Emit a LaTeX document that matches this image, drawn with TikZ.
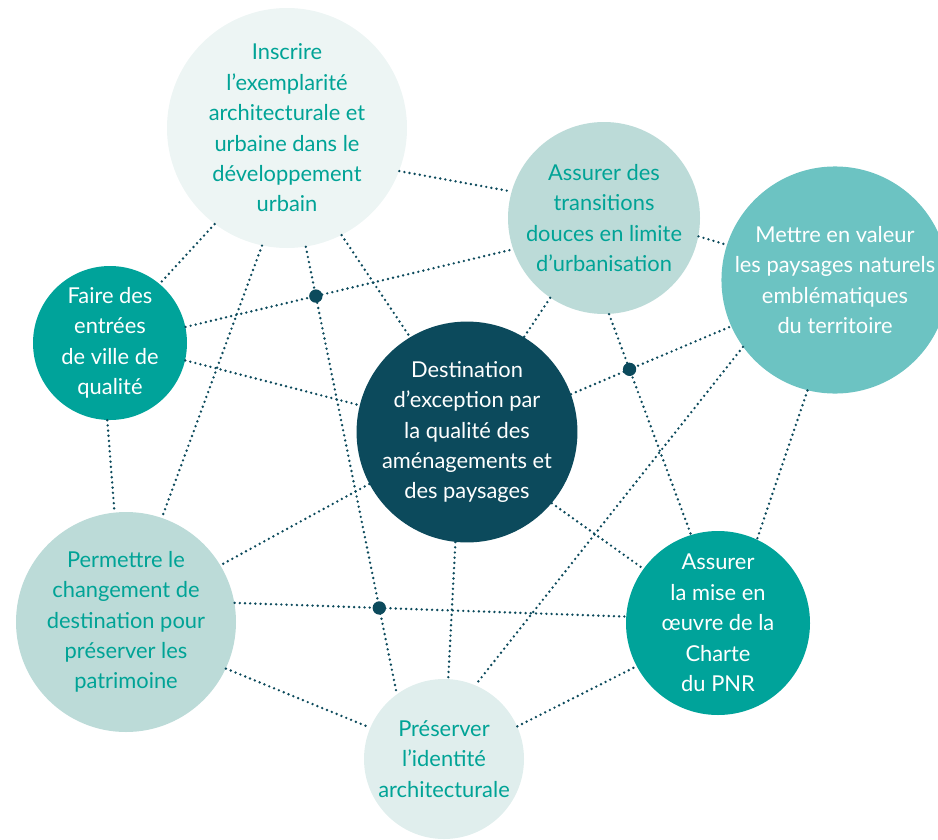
\documentclass[tikz,border=0pt]{standalone}
\usepackage{fontspec}
\setmainfont{Lato}
\usetikzlibrary{intersections}

\definecolor{petrol}{HTML}{0C4A5C}
\definecolor{lagoon}{HTML}{00A39A}
\definecolor{seafoam}{HTML}{6CC3C2}
\definecolor{mist}{HTML}{BCDBD8}
\definecolor{pale}{HTML}{EDF5F4}
\definecolor{frost}{HTML}{E0EEED}
\definecolor{tealtext}{HTML}{00A396}

\begin{document}
\begin{tikzpicture}[x=0.75pt, y=-0.75pt,
    goal/.style={circle, inner sep=0pt, align=center,
      font=\fontsize{16.4}{22.8}\selectfont},
    link/.style={petrol, line width=2pt, line cap=round,
      dash pattern=on 0pt off 3.9pt},
    junction/.style={circle, fill=petrol, inner sep=0pt, minimum size=10pt}]
    \useasboundingbox (0,0) rectangle (938,839);

        % Nodes
        \node (ins) [goal, minimum size=180pt, fill=pale, text=tealtext] at (287,128)
            {Inscrire\\l’exemplarité\\architecturale et\\urbaine dans le\\développement\\urbain};
        \node (tra) [goal, minimum size=144pt, fill=mist, text=tealtext] at (604,218)
            {Assurer des\\transitions\\douces en limite\\d’urbanisation};
        \node (met) [goal, minimum size=160.5pt, fill=seafoam, text=white] at (835,280)
            {Mettre en valeur\\les paysages naturels\\emblématiques\\du territoire};
        \node (fai) [goal, minimum size=115.5pt, fill=lagoon, text=white] at (110,343)
            {Faire des\\entrées\\de ville de\\qualité};
        \node (des) [goal, minimum size=162pt, fill=petrol, text=white] at (467,432)
            {Destination\\d’exception par\\la qualité des\\aménagements et\\des paysages};
        \node (per) [goal, minimum size=165pt, fill=mist, text=tealtext] at (126,622)
            {Permettre le\\changement de\\destination pour\\préserver les\\patrimoine};
        \node (cha) [goal, minimum size=138pt, fill=lagoon, text=white] at (718,623)
            {Assurer\\la mise en\\œuvre de la\\Charte\\du PNR};
        \node (pre) [goal, minimum size=120pt, fill=frost, text=tealtext] at (444,759)
            {Préserver\\l’identité\\architecturale};

        % Edges
        \draw[link] (ins.-21.7) -- (tra.164.8);
        \draw[link] (ins.-127.7) -- (fai.50.7);
        \draw[link] (ins.-102.7) -- (per.71.1);
        \draw[link, name path=insPre] (ins.-81.4) -- (pre.126.6);
        \draw[link] (ins.-63.6) -- (des.121.3);
        \draw[link, name path=faiTra] (fai.12.5) -- (tra.-161.6);
        \draw[link] (tra.-124.3) -- (des.59.1);
        \draw[link] (tra.-11.2) -- (met.162.1);
        \draw[link, name path=traCha] (tra.-87.6) -- (cha.107.1);
        \draw[link, name path=desMet] (des.20.7) -- (met.-156.2);
        \draw[link] (met.-144.1) -- (pre.67.5);
        \draw[link] (met.-104.6) -- (cha.65.1);
        \draw[link] (fai.-13.2) -- (des.166.1);
        \draw[link] (fai.-92) -- (per.96.8);
        \draw[link] (des.-152.7) -- (per.31.2);
        \draw[link] (des.-40.1) -- (cha.144.3);
        \draw[link] (des.-96.9) -- (pre.87.9);
        \draw[link, name path=perCha] (per.10.4) -- (cha.176.3);
        \draw[link] (per.-25) -- (pre.157.9);
        \draw[link] (pre.24.7) -- (cha.-152.9);

        % Crossings
        \path[name intersections={of=insPre and faiTra, by=x1}];
        \path[name intersections={of=traCha and desMet, by=x2}];
        \path[name intersections={of=insPre and perCha, by=x3}];
        \node (j1) [junction] at (x1) {};
        \node (j2) [junction] at (x2) {};
        \node (j3) [junction] at (x3) {};

\end{tikzpicture}
\end{document}
